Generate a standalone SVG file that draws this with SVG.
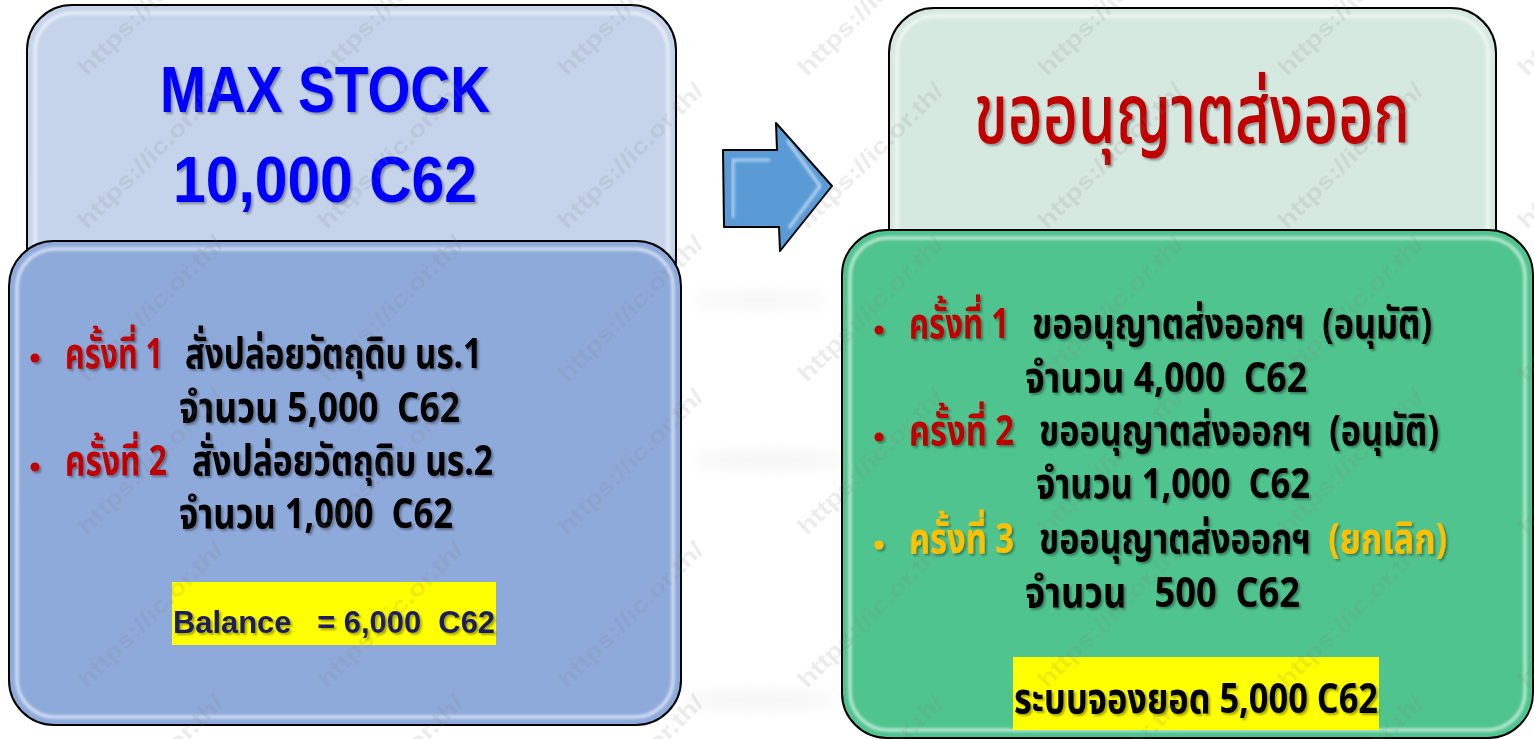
<svg xmlns="http://www.w3.org/2000/svg" width="1534" height="739" viewBox="0 0 1534 739" xml:space="preserve">
<style>
.box{stroke:#000;stroke-width:2}
.bev{fill:none;stroke:#fff;stroke-width:3;opacity:0.7}
.th{font-family:"Noto Sans Thai","Noto Sans","DejaVu Sans",sans-serif;white-space:pre}
.body{font-size:42px;font-weight:bold}
.title{font-size:84px;font-weight:500}
.lat{font-family:"Liberation Sans","Noto Sans",sans-serif;font-weight:bold;white-space:pre}
.big{font-size:64px}
.bal{font-size:32px;fill:#1B1B64}
.blk{fill:#000}
.red{fill:#C00000}
.org{fill:#FFC000}
.wm{font-family:"Liberation Sans",sans-serif;font-size:23px;font-weight:bold;fill:#808080;opacity:0.14}
</style>
<defs>
<filter id="sh" x="-5%" y="-20%" width="110%" height="140%">
<feDropShadow dx="2" dy="2" stdDeviation="1" flood-color="#000" flood-opacity="0.35"/>
</filter>
<filter id="blur" x="-5%" y="-5%" width="110%" height="110%">
<feGaussianBlur stdDeviation="1.5"/>
</filter>
<filter id="soft" x="-20%" y="-50%" width="140%" height="200%">
<feGaussianBlur stdDeviation="8"/>
</filter>
<text id="wmt" class="wm" transform="rotate(-45)" textLength="195" lengthAdjust="spacingAndGlyphs">https://ic.or.th/</text>
</defs>
<rect width="1534" height="739" fill="#fff"/>
<g id="bg-smudge" fill="#f0f0f0" filter="url(#soft)">
<ellipse cx="760" cy="300" rx="70" ry="5"/>
<ellipse cx="770" cy="460" rx="80" ry="6"/>
<ellipse cx="760" cy="700" rx="80" ry="6"/>
</g>

<g id="node-maxstock">
<rect class="box" x="27" y="5" width="649" height="300" rx="45" fill="#C5D4EA"/>
<rect class="bev" x="35" y="13" width="633" height="284" rx="38" filter="url(#blur)"/>
<g filter="url(#sh)" fill="#0000FF">
<text class="lat big" x="160" y="112" textLength="330" lengthAdjust="spacingAndGlyphs">MAX STOCK</text>
<text class="lat big" x="173" y="202" textLength="304" lengthAdjust="spacingAndGlyphs">10,000 C62</text>
</g>
</g>

<g id="node-release">
<rect class="box" x="9" y="241" width="672" height="484" rx="45" fill="#8EAADB"/>
<rect class="bev" x="17" y="249" width="656" height="468" rx="38" filter="url(#blur)"/>
<g filter="url(#sh)">
<circle cx="35" cy="358" r="4.5" class="red"/>
<text class="th body red" x="65" y="368" textLength="98" lengthAdjust="spacingAndGlyphs">ครั้งที่ 1</text>
<text class="th body blk" x="185" y="368" textLength="297" lengthAdjust="spacingAndGlyphs">สั่งปล่อยวัตถุดิบ นร.1</text>
<text class="th body blk" x="179" y="422" textLength="281" lengthAdjust="spacingAndGlyphs">จำนวน 5,000  C62</text>
<circle cx="35" cy="467" r="4.5" class="red"/>
<text class="th body red" x="65" y="475" textLength="102" lengthAdjust="spacingAndGlyphs">ครั้งที่ 2</text>
<text class="th body blk" x="192" y="475" textLength="301" lengthAdjust="spacingAndGlyphs">สั่งปล่อยวัตถุดิบ นร.2</text>
<text class="th body blk" x="179" y="528" textLength="274" lengthAdjust="spacingAndGlyphs">จำนวน 1,000  C62</text>
</g>
<rect x="172" y="582" width="324" height="63" fill="#FFFF00"/>
<text class="lat bal" x="173" y="633" filter="url(#sh)" textLength="322" lengthAdjust="spacingAndGlyphs">Balance   = 6,000  C62</text>
</g>

<g id="node-export-title">
<rect class="box" x="889" y="8" width="607" height="290" rx="45" fill="#D6E9E1"/>
<rect class="bev" x="897" y="16" width="591" height="274" rx="38" filter="url(#blur)"/>
<text class="th title red" x="974" y="143" filter="url(#sh)" textLength="436" lengthAdjust="spacingAndGlyphs">ขออนุญาตส่งออก</text>
</g>

<g id="node-export-list">
<rect class="box" x="842" y="230" width="691" height="508" rx="45" fill="#4FC48E"/>
<rect class="bev" x="850" y="238" width="675" height="492" rx="38" filter="url(#blur)"/>
<g filter="url(#sh)">
<circle cx="879" cy="330" r="4.5" class="red"/>
<text class="th body red" x="909" y="338" textLength="100" lengthAdjust="spacingAndGlyphs">ครั้งที่ 1</text>
<text class="th body blk" x="1032" y="338" textLength="400" lengthAdjust="spacingAndGlyphs">ขออนุญาตส่งออกฯ  (อนุมัติ)</text>
<text class="th body blk" x="1025" y="392" textLength="282" lengthAdjust="spacingAndGlyphs">จำนวน 4,000  C62</text>
<circle cx="879" cy="437" r="4.5" class="red"/>
<text class="th body red" x="909" y="445" textLength="105" lengthAdjust="spacingAndGlyphs">ครั้งที่ 2</text>
<text class="th body blk" x="1039" y="445" textLength="400" lengthAdjust="spacingAndGlyphs">ขออนุญาตส่งออกฯ  (อนุมัติ)</text>
<text class="th body blk" x="1036" y="498" textLength="274" lengthAdjust="spacingAndGlyphs">จำนวน 1,000  C62</text>
<circle cx="879" cy="545" r="4.5" class="org"/>
<text class="th body org" x="909" y="553" textLength="105" lengthAdjust="spacingAndGlyphs">ครั้งที่ 3</text>
<text class="th body blk" x="1039" y="553" textLength="408" lengthAdjust="spacingAndGlyphs">ขออนุญาตส่งออกฯ  <tspan class="org">(ยกเลิก)</tspan></text>
<text class="th body blk" x="1025" y="607" textLength="275" lengthAdjust="spacingAndGlyphs">จำนวน   500  C62</text>
</g>
<rect x="1013" y="657" width="366" height="73" fill="#FFFF00"/>
<text class="th body blk" x="1014" y="713" filter="url(#sh)" textLength="364" lengthAdjust="spacingAndGlyphs">ระบบจองยอด 5,000 C62</text>
</g>

<g id="connectors">
<polygon points="723,150 777,150 776,123 832,186 780,251 779,227 724,227" fill="#5B9BD5" stroke="#000" stroke-width="2" stroke-linejoin="round"/>
<polyline points="733,218 733,160 770,160" fill="none" stroke="#d8ecff" stroke-width="2.5" opacity="0.8" filter="url(#blur)"/>
<polyline points="787,140 820,186 789,228" fill="none" stroke="#e6f3ff" stroke-width="2.5" opacity="0.8" filter="url(#blur)"/>
</g>

<g id="watermark" pointer-events="none">
<use href="#wmt" transform="translate(87,77)"/>
<use href="#wmt" transform="translate(327,77)"/>
<use href="#wmt" transform="translate(567,77)"/>
<use href="#wmt" transform="translate(807,77)"/>
<use href="#wmt" transform="translate(1047,77)"/>
<use href="#wmt" transform="translate(1287,77)"/>
<use href="#wmt" transform="translate(1527,77)"/>
<use href="#wmt" transform="translate(87,230)"/>
<use href="#wmt" transform="translate(327,230)"/>
<use href="#wmt" transform="translate(567,230)"/>
<use href="#wmt" transform="translate(807,230)"/>
<use href="#wmt" transform="translate(1047,230)"/>
<use href="#wmt" transform="translate(1287,230)"/>
<use href="#wmt" transform="translate(1527,230)"/>
<use href="#wmt" transform="translate(87,383)"/>
<use href="#wmt" transform="translate(327,383)"/>
<use href="#wmt" transform="translate(567,383)"/>
<use href="#wmt" transform="translate(807,383)"/>
<use href="#wmt" transform="translate(1047,383)"/>
<use href="#wmt" transform="translate(1287,383)"/>
<use href="#wmt" transform="translate(1527,383)"/>
<use href="#wmt" transform="translate(87,536)"/>
<use href="#wmt" transform="translate(327,536)"/>
<use href="#wmt" transform="translate(567,536)"/>
<use href="#wmt" transform="translate(807,536)"/>
<use href="#wmt" transform="translate(1047,536)"/>
<use href="#wmt" transform="translate(1287,536)"/>
<use href="#wmt" transform="translate(1527,536)"/>
<use href="#wmt" transform="translate(87,689)"/>
<use href="#wmt" transform="translate(327,689)"/>
<use href="#wmt" transform="translate(567,689)"/>
<use href="#wmt" transform="translate(807,689)"/>
<use href="#wmt" transform="translate(1047,689)"/>
<use href="#wmt" transform="translate(1287,689)"/>
<use href="#wmt" transform="translate(1527,689)"/>
<use href="#wmt" transform="translate(87,842)"/>
<use href="#wmt" transform="translate(327,842)"/>
<use href="#wmt" transform="translate(567,842)"/>
<use href="#wmt" transform="translate(807,842)"/>
<use href="#wmt" transform="translate(1047,842)"/>
<use href="#wmt" transform="translate(1287,842)"/>
<use href="#wmt" transform="translate(1527,842)"/>
</g>
</svg>
